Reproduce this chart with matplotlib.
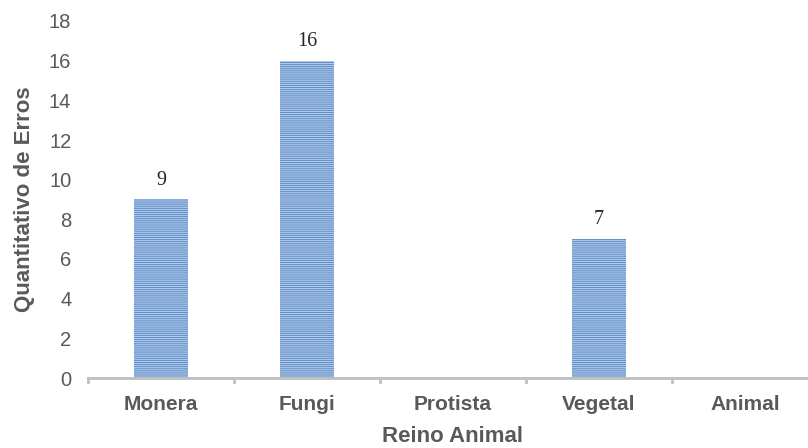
import matplotlib
matplotlib.use("Agg")
import matplotlib.pyplot as plt
import matplotlib as mpl

categories = ["Monera", "Fungi", "Protista", "Vegetal", "Animal"]
values = [9, 16, 0, 7, 0]
labels = ["9", "16", "", "7", ""]
yticks = [0, 2, 4, 6, 8, 10, 12, 14, 16, 18]

mpl.rcParams["hatch.linewidth"] = 0.8
gray = "#595959"

W, H = 808, 448
fig = plt.figure(figsize=(W / 100, H / 100), dpi=100)
# axes in pixel geometry
left, right, bottom, top = 88, 818, 378, 21
ax = fig.add_axes([left / W, (H - bottom) / H, (right - left) / W, (bottom - top) / H])

x = list(range(len(categories)))
ax.bar(x, values, width=0.37, color="#5d8cc8", edgecolor="#b3cbea",
       hatch="--------", linewidth=0, zorder=2)
for xi, v, lab in zip(x, values, labels):
    if lab:
        ax.annotate(lab, (xi, v), xytext=(0, 7), textcoords="offset points",
                    ha="center", va="bottom", fontsize=14.5,
                    family="Liberation Serif", color="#262626")

ax.set_xlim(-0.5, len(categories) - 0.5)
ax.set_ylim(0, 18)
ax.set_yticks(yticks)
ax.set_yticklabels([str(t) for t in yticks], fontsize=14.5, color=gray,
                   family="Liberation Sans")
ax.tick_params(axis="y", length=0, pad=12)
ax.set_xticks(x)
ax.set_xticklabels(categories, fontsize=15, color=gray, fontweight="bold",
                   family="Liberation Sans")
ax.tick_params(axis="x", length=0, pad=12)
# category boundary tick marks
for b in [i - 0.5 for i in range(len(categories) + 1)]:
    ax.plot([b, b], [0, -0.2], color="#bfbfbf", lw=2, clip_on=False, zorder=3)

for s in ["top", "right", "left"]:
    ax.spines[s].set_visible(False)
ax.spines["bottom"].set_color("#bfbfbf")
ax.spines["bottom"].set_linewidth(2)

ax.set_xlabel("Reino Animal", fontsize=16, fontweight="bold", color=gray,
              family="Liberation Sans", labelpad=9)
ax.set_ylabel("Quantitativo de Erros", fontsize=16, fontweight="bold", color=gray,
              family="Liberation Sans", labelpad=10)

fig.savefig("out.png", dpi=100)
